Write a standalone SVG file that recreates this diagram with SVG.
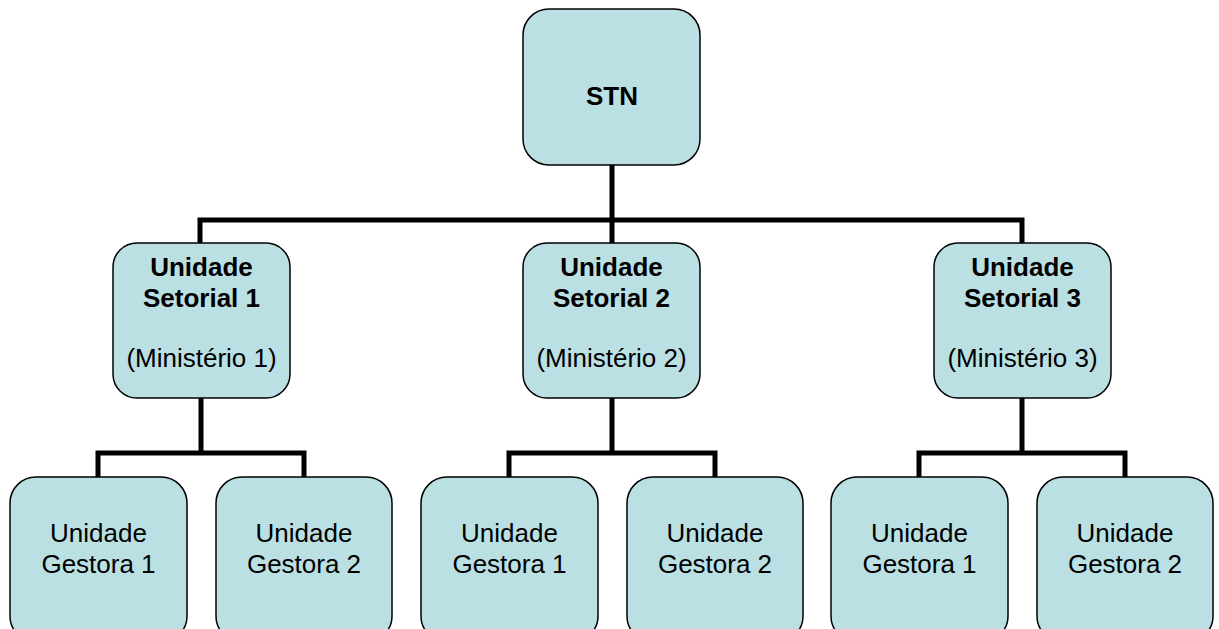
<svg xmlns="http://www.w3.org/2000/svg" width="1219" height="629" viewBox="0 0 1219 629">
<style>
.box{fill:#bbe0e3;stroke:#000;stroke-width:1.5}
.conn{fill:none;stroke:#000;stroke-width:5;stroke-linejoin:miter;stroke-linecap:square}
text{font-family:"Liberation Sans",Arial,sans-serif;font-size:26px;text-anchor:middle;fill:#000}
.b{font-weight:bold}
</style>
<rect width="1219" height="629" fill="#fff"/>
<g id="connectors">
<path class="conn" d="M612 165V220M200 220H1022M200 220V243M612 220V243M1022 220V243"/>
<path class="conn" d="M201 398V453M98 453H304M98 453V477M304 453V477"/>
<path class="conn" d="M612 398V453M509 453H715M509 453V477M715 453V477"/>
<path class="conn" d="M1022 398V453M919 453H1125M919 453V477M1125 453V477"/>
</g>
<g id="stn"><rect class="box" x="523" y="9" width="177" height="156" rx="26"/><text class="b" x="612" y="105">STN</text></g>
<g id="us1"><rect class="box" x="113" y="243" width="177" height="155" rx="24"/><text class="b" x="201.5" y="276">Unidade</text><text class="b" x="201.5" y="307">Setorial 1</text><text x="201.5" y="367">(Ministério 1)</text></g>
<g id="us2"><rect class="box" x="523" y="243" width="177" height="155" rx="24"/><text class="b" x="611.5" y="276">Unidade</text><text class="b" x="611.5" y="307">Setorial 2</text><text x="611.5" y="367">(Ministério 2)</text></g>
<g id="us3"><rect class="box" x="934" y="243" width="177" height="155" rx="24"/><text class="b" x="1022.5" y="276">Unidade</text><text class="b" x="1022.5" y="307">Setorial 3</text><text x="1022.5" y="367">(Ministério 3)</text></g>
<g id="ug1a"><rect class="box" x="10" y="477" width="177" height="165" rx="26"/><text x="98.5" y="542">Unidade</text><text x="98.5" y="573">Gestora 1</text></g>
<g id="ug1b"><rect class="box" x="216" y="477" width="176" height="165" rx="26"/><text x="304" y="542">Unidade</text><text x="304" y="573">Gestora 2</text></g>
<g id="ug2a"><rect class="box" x="421" y="477" width="177" height="165" rx="26"/><text x="509.5" y="542">Unidade</text><text x="509.5" y="573">Gestora 1</text></g>
<g id="ug2b"><rect class="box" x="627" y="477" width="176" height="165" rx="26"/><text x="715" y="542">Unidade</text><text x="715" y="573">Gestora 2</text></g>
<g id="ug3a"><rect class="box" x="831" y="477" width="177" height="165" rx="26"/><text x="919.5" y="542">Unidade</text><text x="919.5" y="573">Gestora 1</text></g>
<g id="ug3b"><rect class="box" x="1037" y="477" width="176" height="165" rx="26"/><text x="1125" y="542">Unidade</text><text x="1125" y="573">Gestora 2</text></g>
</svg>
